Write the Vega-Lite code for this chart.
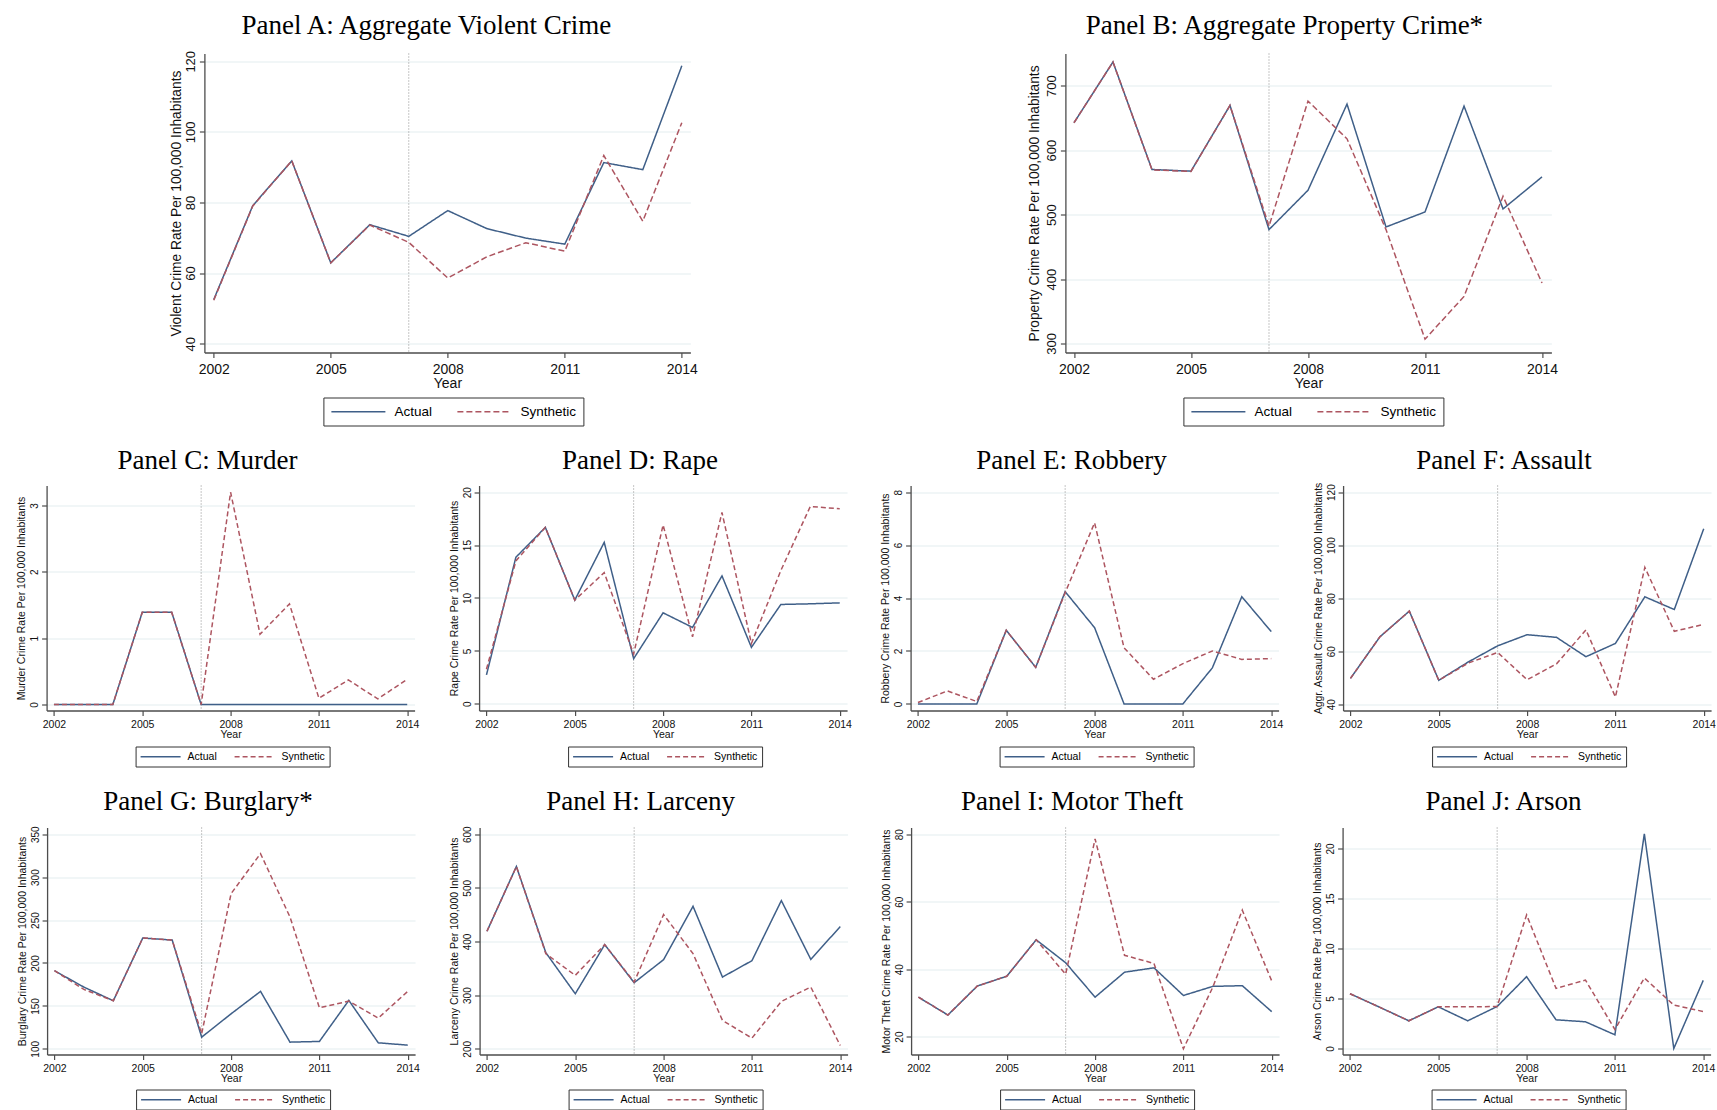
{
  "$schema": "https://vega.github.io/schema/vega-lite/v6.json",
  "background": "white",
  "padding": {"left": 16.5, "top": 11.5, "right": 0, "bottom": 0},
  "config": {
    "view": {"stroke": null},
    "font": "Liberation Sans",
    "axis": {
      "domainColor": "#4d4d4d", "domainWidth": 1.3,
      "tickColor": "#4d4d4d", "tickWidth": 1.2, "tickSize": 5,
      "labelColor": "#111111", "titleColor": "#111111", "titleFontWeight": "normal",
      "labelFont": "Liberation Sans", "titleFont": "Liberation Sans",
      "gridColor": "#e4eef0", "gridWidth": 1.2
    },
    "axisX": {"grid": false, "format": "d", "labelFlush": false},
    "axisY": {"grid": true, "labelAngle": -90, "labelAlign": "center", "labelBaseline": "bottom", "labelPadding": 2},
    "title": {"font": "Liberation Serif", "fontWeight": "normal", "color": "#000000", "anchor": "middle", "frame": "group"},
    "legend": {
      "strokeColor": "#333333", "fillColor": "#ffffff",
      "symbolStrokeWidth": 1.5, "labelColor": "#000000", "labelFont": "Liberation Sans",
      "orient": "none", "direction": "horizontal", "title": null
    },
    "line": {"strokeWidth": 1.5}
  },
  "datasets": {
    "crime": [
      {"panel": "A", "year": 2002, "Actual": 52.5, "Synthetic": 52.3},
      {"panel": "A", "year": 2003, "Actual": 79.1, "Synthetic": 79.0},
      {"panel": "A", "year": 2004, "Actual": 91.8, "Synthetic": 91.8},
      {"panel": "A", "year": 2005, "Actual": 62.9, "Synthetic": 62.9},
      {"panel": "A", "year": 2006, "Actual": 73.7, "Synthetic": 73.6},
      {"panel": "A", "year": 2007, "Actual": 70.4, "Synthetic": 68.7},
      {"panel": "A", "year": 2008, "Actual": 77.7, "Synthetic": 58.6},
      {"panel": "A", "year": 2009, "Actual": 72.6, "Synthetic": 64.6},
      {"panel": "A", "year": 2010, "Actual": 69.9, "Synthetic": 68.6},
      {"panel": "A", "year": 2011, "Actual": 68.2, "Synthetic": 66.2},
      {"panel": "A", "year": 2012, "Actual": 91.3, "Synthetic": 93.3},
      {"panel": "A", "year": 2013, "Actual": 89.3, "Synthetic": 74.7},
      {"panel": "A", "year": 2014, "Actual": 118.7, "Synthetic": 102.6},

      {"panel": "B", "year": 2002, "Actual": 642.5, "Synthetic": 642.5},
      {"panel": "B", "year": 2003, "Actual": 736.8, "Synthetic": 736.8},
      {"panel": "B", "year": 2004, "Actual": 570.0, "Synthetic": 569.5},
      {"panel": "B", "year": 2005, "Actual": 567.4, "Synthetic": 567.0},
      {"panel": "B", "year": 2006, "Actual": 669.4, "Synthetic": 669.4},
      {"panel": "B", "year": 2007, "Actual": 476.7, "Synthetic": 482.0},
      {"panel": "B", "year": 2008, "Actual": 537.8, "Synthetic": 676.2},
      {"panel": "B", "year": 2009, "Actual": 671.5, "Synthetic": 617.6},
      {"panel": "B", "year": 2010, "Actual": 480.8, "Synthetic": 476.7},
      {"panel": "B", "year": 2011, "Actual": 504.1, "Synthetic": 306.7},
      {"panel": "B", "year": 2012, "Actual": 668.4, "Synthetic": 373.0},
      {"panel": "B", "year": 2013, "Actual": 508.8, "Synthetic": 528.5},
      {"panel": "B", "year": 2014, "Actual": 558.5, "Synthetic": 393.8},

      {"panel": "C", "year": 2002, "Actual": 0, "Synthetic": 0},
      {"panel": "C", "year": 2003, "Actual": 0, "Synthetic": 0},
      {"panel": "C", "year": 2004, "Actual": 0, "Synthetic": 0},
      {"panel": "C", "year": 2005, "Actual": 1.39, "Synthetic": 1.39},
      {"panel": "C", "year": 2006, "Actual": 1.39, "Synthetic": 1.39},
      {"panel": "C", "year": 2007, "Actual": 0, "Synthetic": 0},
      {"panel": "C", "year": 2008, "Actual": 0, "Synthetic": 3.2},
      {"panel": "C", "year": 2009, "Actual": 0, "Synthetic": 1.06},
      {"panel": "C", "year": 2010, "Actual": 0, "Synthetic": 1.515},
      {"panel": "C", "year": 2011, "Actual": 0, "Synthetic": 0.095},
      {"panel": "C", "year": 2012, "Actual": 0, "Synthetic": 0.37},
      {"panel": "C", "year": 2013, "Actual": 0, "Synthetic": 0.085},
      {"panel": "C", "year": 2014, "Actual": 0, "Synthetic": 0.38},

      {"panel": "D", "year": 2002, "Actual": 2.73, "Synthetic": 3.27},
      {"panel": "D", "year": 2003, "Actual": 13.85, "Synthetic": 13.5},
      {"panel": "D", "year": 2004, "Actual": 16.67, "Synthetic": 16.67},
      {"panel": "D", "year": 2005, "Actual": 9.8, "Synthetic": 9.8},
      {"panel": "D", "year": 2006, "Actual": 15.26, "Synthetic": 12.4},
      {"panel": "D", "year": 2007, "Actual": 4.27, "Synthetic": 4.7},
      {"panel": "D", "year": 2008, "Actual": 8.6, "Synthetic": 16.9},
      {"panel": "D", "year": 2009, "Actual": 7.22, "Synthetic": 6.34},
      {"panel": "D", "year": 2010, "Actual": 12.09, "Synthetic": 18.08},
      {"panel": "D", "year": 2011, "Actual": 5.34, "Synthetic": 5.7},
      {"panel": "D", "year": 2012, "Actual": 9.39, "Synthetic": 12.6},
      {"panel": "D", "year": 2013, "Actual": 9.45, "Synthetic": 18.65},
      {"panel": "D", "year": 2014, "Actual": 9.54, "Synthetic": 18.43},

      {"panel": "E", "year": 2002, "Actual": 0, "Synthetic": 0.05},
      {"panel": "E", "year": 2003, "Actual": 0, "Synthetic": 0.49},
      {"panel": "E", "year": 2004, "Actual": 0, "Synthetic": 0.09},
      {"panel": "E", "year": 2005, "Actual": 2.78, "Synthetic": 2.78},
      {"panel": "E", "year": 2006, "Actual": 1.38, "Synthetic": 1.38},
      {"panel": "E", "year": 2007, "Actual": 4.24, "Synthetic": 4.2},
      {"panel": "E", "year": 2008, "Actual": 2.88, "Synthetic": 6.84},
      {"panel": "E", "year": 2009, "Actual": 0, "Synthetic": 2.12},
      {"panel": "E", "year": 2010, "Actual": 0, "Synthetic": 0.93},
      {"panel": "E", "year": 2011, "Actual": 0, "Synthetic": 1.52},
      {"panel": "E", "year": 2012, "Actual": 1.36, "Synthetic": 2.0},
      {"panel": "E", "year": 2013, "Actual": 4.05, "Synthetic": 1.68},
      {"panel": "E", "year": 2014, "Actual": 2.73, "Synthetic": 1.71},

      {"panel": "F", "year": 2002, "Actual": 49.7, "Synthetic": 49.7},
      {"panel": "F", "year": 2003, "Actual": 65.4, "Synthetic": 65.4},
      {"panel": "F", "year": 2004, "Actual": 75.1, "Synthetic": 75.1},
      {"panel": "F", "year": 2005, "Actual": 49.0, "Synthetic": 49.0},
      {"panel": "F", "year": 2006, "Actual": 55.9, "Synthetic": 55.5},
      {"panel": "F", "year": 2007, "Actual": 62.0, "Synthetic": 59.5},
      {"panel": "F", "year": 2008, "Actual": 66.2, "Synthetic": 49.2},
      {"panel": "F", "year": 2009, "Actual": 65.2, "Synthetic": 55.2},
      {"panel": "F", "year": 2010, "Actual": 57.9, "Synthetic": 68.0},
      {"panel": "F", "year": 2011, "Actual": 62.9, "Synthetic": 42.7},
      {"panel": "F", "year": 2012, "Actual": 80.5, "Synthetic": 91.6},
      {"panel": "F", "year": 2013, "Actual": 75.7, "Synthetic": 67.5},
      {"panel": "F", "year": 2014, "Actual": 106.2, "Synthetic": 70.1},

      {"panel": "G", "year": 2002, "Actual": 191.0, "Synthetic": 191.0},
      {"panel": "G", "year": 2003, "Actual": 171.9, "Synthetic": 169.2},
      {"panel": "G", "year": 2004, "Actual": 156.0, "Synthetic": 156.0},
      {"panel": "G", "year": 2005, "Actual": 229.1, "Synthetic": 229.1},
      {"panel": "G", "year": 2006, "Actual": 226.7, "Synthetic": 226.7},
      {"panel": "G", "year": 2007, "Actual": 113.6, "Synthetic": 117.5},
      {"panel": "G", "year": 2008, "Actual": 140.8, "Synthetic": 280.8},
      {"panel": "G", "year": 2009, "Actual": 166.9, "Synthetic": 327.4},
      {"panel": "G", "year": 2010, "Actual": 107.8, "Synthetic": 253.6},
      {"panel": "G", "year": 2011, "Actual": 108.6, "Synthetic": 147.8},
      {"panel": "G", "year": 2012, "Actual": 156.4, "Synthetic": 155.6},
      {"panel": "G", "year": 2013, "Actual": 107.0, "Synthetic": 135.8},
      {"panel": "G", "year": 2014, "Actual": 104.3, "Synthetic": 166.9},

      {"panel": "H", "year": 2002, "Actual": 419.0, "Synthetic": 419.0},
      {"panel": "H", "year": 2003, "Actual": 539.7, "Synthetic": 539.7},
      {"panel": "H", "year": 2004, "Actual": 379.2, "Synthetic": 377.3},
      {"panel": "H", "year": 2005, "Actual": 302.6, "Synthetic": 336.9},
      {"panel": "H", "year": 2006, "Actual": 394.1, "Synthetic": 394.1},
      {"panel": "H", "year": 2007, "Actual": 323.2, "Synthetic": 324.4},
      {"panel": "H", "year": 2008, "Actual": 366.1, "Synthetic": 450.1},
      {"panel": "H", "year": 2009, "Actual": 465.6, "Synthetic": 377.3},
      {"panel": "H", "year": 2010, "Actual": 333.7, "Synthetic": 252.9},
      {"panel": "H", "year": 2011, "Actual": 364.2, "Synthetic": 219.9},
      {"panel": "H", "year": 2012, "Actual": 476.2, "Synthetic": 288.3},
      {"panel": "H", "year": 2013, "Actual": 366.7, "Synthetic": 315.1},
      {"panel": "H", "year": 2014, "Actual": 427.7, "Synthetic": 206.2},

      {"panel": "I", "year": 2002, "Actual": 31.7, "Synthetic": 31.7},
      {"panel": "I", "year": 2003, "Actual": 26.4, "Synthetic": 26.4},
      {"panel": "I", "year": 2004, "Actual": 35.0, "Synthetic": 35.0},
      {"panel": "I", "year": 2005, "Actual": 37.9, "Synthetic": 37.9},
      {"panel": "I", "year": 2006, "Actual": 48.7, "Synthetic": 48.7},
      {"panel": "I", "year": 2007, "Actual": 41.9, "Synthetic": 38.5},
      {"panel": "I", "year": 2008, "Actual": 31.7, "Synthetic": 78.6},
      {"panel": "I", "year": 2009, "Actual": 39.1, "Synthetic": 44.1},
      {"panel": "I", "year": 2010, "Actual": 40.4, "Synthetic": 41.7},
      {"panel": "I", "year": 2011, "Actual": 32.2, "Synthetic": 16.4},
      {"panel": "I", "year": 2012, "Actual": 34.9, "Synthetic": 34.7},
      {"panel": "I", "year": 2013, "Actual": 35.1, "Synthetic": 57.5},
      {"panel": "I", "year": 2014, "Actual": 27.4, "Synthetic": 36.5},

      {"panel": "J", "year": 2002, "Actual": 5.48, "Synthetic": 5.48},
      {"panel": "J", "year": 2003, "Actual": 4.14, "Synthetic": 4.14},
      {"panel": "J", "year": 2004, "Actual": 2.77, "Synthetic": 2.77},
      {"panel": "J", "year": 2005, "Actual": 4.17, "Synthetic": 4.17},
      {"panel": "J", "year": 2006, "Actual": 2.77, "Synthetic": 4.17},
      {"panel": "J", "year": 2007, "Actual": 4.2, "Synthetic": 4.2},
      {"panel": "J", "year": 2008, "Actual": 7.18, "Synthetic": 13.36},
      {"panel": "J", "year": 2009, "Actual": 2.87, "Synthetic": 6.01},
      {"panel": "J", "year": 2010, "Actual": 2.67, "Synthetic": 6.84},
      {"panel": "J", "year": 2011, "Actual": 1.37, "Synthetic": 1.9},
      {"panel": "J", "year": 2012, "Actual": 21.47, "Synthetic": 7.05},
      {"panel": "J", "year": 2013, "Actual": 0, "Synthetic": 4.34},
      {"panel": "J", "year": 2014, "Actual": 6.81, "Synthetic": 3.7}
    ],
    "treatment": [{"year": 2007}]
  },
  "spacing": 20,
  "center": true,
  "resolve": {"scale": {"color": "independent", "strokeDash": "independent"}, "legend": {"color": "independent", "strokeDash": "independent"}},
  "vconcat": [
    {
      "spacing": 330,
      "resolve": {"scale": {"color": "independent", "strokeDash": "independent"}, "legend": {"color": "independent", "strokeDash": "independent"}},
      "hconcat": [
        {
          "width": 486, "height": 299,
          "title": {"text": "Panel A: Aggregate Violent Crime", "fontSize": 27, "dx": -21, "offset": 10},
          "layer": [
            {"data": {"name": "treatment"}, "mark": {"type": "rule", "color": "#8c8c8c", "strokeDash": [1, 2], "strokeWidth": 1},
             "encoding": {"x": {"field": "year", "type": "quantitative", "title": "Year", "scale": {"domain": [2001.76, 2014.22], "nice": false, "zero": false}}}},
            {"data": {"name": "crime"},
             "transform": [{"filter": "datum.panel === 'A'"}, {"fold": ["Actual", "Synthetic"], "as": ["series", "rate"]}],
             "mark": {"type": "line"},
             "encoding": {
               "x": {"field": "year", "type": "quantitative", "scale": {"domain": [2001.76, 2014.22], "nice": false, "zero": false},
                     "axis": {"values": [2002, 2005, 2008, 2011, 2014], "title": "Year", "labelFontSize": 14, "titleFontSize": 14, "labelPadding": 5, "titlePadding": 0}},
               "y": {"field": "rate", "type": "quantitative", "scale": {"domain": [37.5, 122.2], "nice": false, "zero": false},
                     "axis": {"values": [40, 60, 80, 100, 120], "title": "Violent Crime Rate Per 100,000 Inhabitants", "labelFontSize": 13, "titleFontSize": 13.8, "titlePadding": 1}},
               "color": {"field": "series", "type": "nominal", "scale": {"domain": ["Actual", "Synthetic"], "range": ["#3f5f88", "#ad5560"]},
                         "legend": {"legendX": 119, "legendY": 344, "symbolType": "M-1,0H8", "symbolSize": 144, "labelFontSize": 13.5, "labelOffset": 50, "columnPadding": 22, "padding": 7}},
               "strokeDash": {"field": "series", "type": "nominal", "scale": {"domain": ["Actual", "Synthetic"], "range": [[1, 0], [6, 3]]},
                         "legend": {"legendX": 119, "legendY": 344, "symbolType": "M-1,0H8", "symbolSize": 144, "labelFontSize": 13.5, "labelOffset": 50, "columnPadding": 22, "padding": 7}}
             }}
          ]
        },
        {
          "width": 486, "height": 299,
          "title": {"text": "Panel B: Aggregate Property Crime*", "fontSize": 27, "dx": -24, "offset": 13},
          "layer": [
            {"data": {"name": "treatment"}, "mark": {"type": "rule", "color": "#8c8c8c", "strokeDash": [1, 2], "strokeWidth": 1},
             "encoding": {"x": {"field": "year", "type": "quantitative", "title": "Year", "scale": {"domain": [2001.78, 2014.24], "nice": false, "zero": false}}}},
            {"data": {"name": "crime"},
             "transform": [{"filter": "datum.panel === 'B'"}, {"fold": ["Actual", "Synthetic"], "as": ["series", "rate"]}],
             "mark": {"type": "line"},
             "encoding": {
               "x": {"field": "year", "type": "quantitative", "scale": {"domain": [2001.78, 2014.24], "nice": false, "zero": false},
                     "axis": {"values": [2002, 2005, 2008, 2011, 2014], "title": "Year", "labelFontSize": 14, "titleFontSize": 14, "labelPadding": 5, "titlePadding": 0}},
               "y": {"field": "rate", "type": "quantitative", "scale": {"domain": [286, 750], "nice": false, "zero": false},
                     "axis": {"values": [300, 400, 500, 600, 700], "title": "Property Crime Rate Per 100,000 Inhabitants", "labelFontSize": 13, "titleFontSize": 13.8, "titlePadding": 4}},
               "color": {"field": "series", "type": "nominal", "scale": {"domain": ["Actual", "Synthetic"], "range": ["#3f5f88", "#ad5560"]},
                         "legend": {"legendX": 118, "legendY": 344, "symbolType": "M-1,0H8", "symbolSize": 144, "labelFontSize": 13.5, "labelOffset": 50, "columnPadding": 22, "padding": 7}},
               "strokeDash": {"field": "series", "type": "nominal", "scale": {"domain": ["Actual", "Synthetic"], "range": [[1, 0], [6, 3]]},
                         "legend": {"legendX": 118, "legendY": 344, "symbolType": "M-1,0H8", "symbolSize": 144, "labelFontSize": 13.5, "labelOffset": 50, "columnPadding": 22, "padding": 7}}
             }}
          ]
        }
      ]
    },
    {
      "spacing": 28.5,
      "resolve": {"scale": {"color": "independent", "strokeDash": "independent"}, "legend": {"color": "independent", "strokeDash": "independent"}},
      "hconcat": [
        {
          "width": 368, "height": 225,
          "title": {"text": "Panel C: Murder", "fontSize": 27, "dx": -23, "offset": 10},
          "layer": [
            {"data": {"name": "treatment"}, "mark": {"type": "rule", "color": "#8c8c8c", "strokeDash": [1, 2], "strokeWidth": 1},
             "encoding": {"x": {"field": "year", "type": "quantitative", "title": "Year", "scale": {"domain": [2001.75, 2014.25], "nice": false, "zero": false}}}},
            {"data": {"name": "crime"},
             "transform": [{"filter": "datum.panel === 'C'"}, {"fold": ["Actual", "Synthetic"], "as": ["series", "rate"]}],
             "mark": {"type": "line"},
             "encoding": {
               "x": {"field": "year", "type": "quantitative", "scale": {"domain": [2001.75, 2014.25], "nice": false, "zero": false},
                     "axis": {"values": [2002, 2005, 2008, 2011, 2014], "title": "Year", "labelFontSize": 10.5, "titleFontSize": 10.5, "labelPadding": 4, "titlePadding": -1}},
               "y": {"field": "rate", "type": "quantitative", "scale": {"domain": [-0.09, 3.3], "nice": false, "zero": false},
                     "axis": {"values": [0, 1, 2, 3], "title": "Murder Crime Rate Per 100,000 Inhabitants", "labelFontSize": 10, "titleFontSize": 10.5, "titlePadding": 3}},
               "color": {"field": "series", "type": "nominal", "scale": {"domain": ["Actual", "Synthetic"], "range": ["#3f5f88", "#ad5560"]},
                         "legend": {"legendX": 89, "legendY": 261, "symbolType": "M-1,0H7", "symbolSize": 100, "labelFontSize": 10.5, "labelOffset": 36, "columnPadding": 14, "padding": 4}},
               "strokeDash": {"field": "series", "type": "nominal", "scale": {"domain": ["Actual", "Synthetic"], "range": [[1, 0], [5, 3]]},
                         "legend": {"legendX": 89, "legendY": 261, "symbolType": "M-1,0H7", "symbolSize": 100, "labelFontSize": 10.5, "labelOffset": 36, "columnPadding": 14, "padding": 4}}
             }}
          ]
        },
        {
          "width": 368, "height": 225,
          "title": {"text": "Panel D: Rape", "fontSize": 27, "dx": -23, "offset": 10},
          "layer": [
            {"data": {"name": "treatment"}, "mark": {"type": "rule", "color": "#8c8c8c", "strokeDash": [1, 2], "strokeWidth": 1},
             "encoding": {"x": {"field": "year", "type": "quantitative", "title": "Year", "scale": {"domain": [2001.75, 2014.25], "nice": false, "zero": false}}}},
            {"data": {"name": "crime"},
             "transform": [{"filter": "datum.panel === 'D'"}, {"fold": ["Actual", "Synthetic"], "as": ["series", "rate"]}],
             "mark": {"type": "line"},
             "encoding": {
               "x": {"field": "year", "type": "quantitative", "scale": {"domain": [2001.75, 2014.25], "nice": false, "zero": false},
                     "axis": {"values": [2002, 2005, 2008, 2011, 2014], "title": "Year", "labelFontSize": 10.5, "titleFontSize": 10.5, "labelPadding": 4, "titlePadding": -1}},
               "y": {"field": "rate", "type": "quantitative", "scale": {"domain": [-0.63, 20.63], "nice": false, "zero": false},
                     "axis": {"values": [0, 5, 10, 15, 20], "title": "Rape Crime Rate Per 100,000 Inhabitants", "labelFontSize": 10, "titleFontSize": 10.5, "titlePadding": 3}},
               "color": {"field": "series", "type": "nominal", "scale": {"domain": ["Actual", "Synthetic"], "range": ["#3f5f88", "#ad5560"]},
                         "legend": {"legendX": 89, "legendY": 261, "symbolType": "M-1,0H7", "symbolSize": 100, "labelFontSize": 10.5, "labelOffset": 36, "columnPadding": 14, "padding": 4}},
               "strokeDash": {"field": "series", "type": "nominal", "scale": {"domain": ["Actual", "Synthetic"], "range": [[1, 0], [5, 3]]},
                         "legend": {"legendX": 89, "legendY": 261, "symbolType": "M-1,0H7", "symbolSize": 100, "labelFontSize": 10.5, "labelOffset": 36, "columnPadding": 14, "padding": 4}}
             }}
          ]
        },
        {
          "width": 368, "height": 225,
          "title": {"text": "Panel E: Robbery", "fontSize": 27, "dx": -23, "offset": 10},
          "layer": [
            {"data": {"name": "treatment"}, "mark": {"type": "rule", "color": "#8c8c8c", "strokeDash": [1, 2], "strokeWidth": 1},
             "encoding": {"x": {"field": "year", "type": "quantitative", "title": "Year", "scale": {"domain": [2001.75, 2014.25], "nice": false, "zero": false}}}},
            {"data": {"name": "crime"},
             "transform": [{"filter": "datum.panel === 'E'"}, {"fold": ["Actual", "Synthetic"], "as": ["series", "rate"]}],
             "mark": {"type": "line"},
             "encoding": {
               "x": {"field": "year", "type": "quantitative", "scale": {"domain": [2001.75, 2014.25], "nice": false, "zero": false},
                     "axis": {"values": [2002, 2005, 2008, 2011, 2014], "title": "Year", "labelFontSize": 10.5, "titleFontSize": 10.5, "labelPadding": 4, "titlePadding": -1}},
               "y": {"field": "rate", "type": "quantitative", "scale": {"domain": [-0.25, 8.25], "nice": false, "zero": false},
                     "axis": {"values": [0, 2, 4, 6, 8], "title": "Robbery Crime Rate Per 100,000 Inhabitants", "labelFontSize": 10, "titleFontSize": 10.5, "titlePadding": 3}},
               "color": {"field": "series", "type": "nominal", "scale": {"domain": ["Actual", "Synthetic"], "range": ["#3f5f88", "#ad5560"]},
                         "legend": {"legendX": 89, "legendY": 261, "symbolType": "M-1,0H7", "symbolSize": 100, "labelFontSize": 10.5, "labelOffset": 36, "columnPadding": 14, "padding": 4}},
               "strokeDash": {"field": "series", "type": "nominal", "scale": {"domain": ["Actual", "Synthetic"], "range": [[1, 0], [5, 3]]},
                         "legend": {"legendX": 89, "legendY": 261, "symbolType": "M-1,0H7", "symbolSize": 100, "labelFontSize": 10.5, "labelOffset": 36, "columnPadding": 14, "padding": 4}}
             }}
          ]
        },
        {
          "width": 368, "height": 225,
          "title": {"text": "Panel F: Assault", "fontSize": 27, "dx": -23, "offset": 7},
          "layer": [
            {"data": {"name": "treatment"}, "mark": {"type": "rule", "color": "#8c8c8c", "strokeDash": [1, 2], "strokeWidth": 1},
             "encoding": {"x": {"field": "year", "type": "quantitative", "title": "Year", "scale": {"domain": [2001.75, 2014.25], "nice": false, "zero": false}}}},
            {"data": {"name": "crime"},
             "transform": [{"filter": "datum.panel === 'F'"}, {"fold": ["Actual", "Synthetic"], "as": ["series", "rate"]}],
             "mark": {"type": "line"},
             "encoding": {
               "x": {"field": "year", "type": "quantitative", "scale": {"domain": [2001.75, 2014.25], "nice": false, "zero": false},
                     "axis": {"values": [2002, 2005, 2008, 2011, 2014], "title": "Year", "labelFontSize": 10.5, "titleFontSize": 10.5, "labelPadding": 4, "titlePadding": -1}},
               "y": {"field": "rate", "type": "quantitative", "scale": {"domain": [37.6, 122.5], "nice": false, "zero": false},
                     "axis": {"values": [40, 60, 80, 100, 120], "title": "Aggr. Assault Crime Rate Per 100,000 Inhabitants", "labelFontSize": 10, "titleFontSize": 10.5, "titlePadding": 3}},
               "color": {"field": "series", "type": "nominal", "scale": {"domain": ["Actual", "Synthetic"], "range": ["#3f5f88", "#ad5560"]},
                         "legend": {"legendX": 89, "legendY": 261, "symbolType": "M-1,0H7", "symbolSize": 100, "labelFontSize": 10.5, "labelOffset": 36, "columnPadding": 14, "padding": 4}},
               "strokeDash": {"field": "series", "type": "nominal", "scale": {"domain": ["Actual", "Synthetic"], "range": [[1, 0], [5, 3]]},
                         "legend": {"legendX": 89, "legendY": 261, "symbolType": "M-1,0H7", "symbolSize": 100, "labelFontSize": 10.5, "labelOffset": 36, "columnPadding": 14, "padding": 4}}
             }}
          ]
        }
      ]
    },
    {
      "spacing": 28.5,
      "resolve": {"scale": {"color": "independent", "strokeDash": "independent"}, "legend": {"color": "independent", "strokeDash": "independent"}},
      "hconcat": [
        {
          "width": 368, "height": 227,
          "title": {"text": "Panel G: Burglary*", "fontSize": 27, "dx": -23, "offset": 9.5},
          "layer": [
            {"data": {"name": "treatment"}, "mark": {"type": "rule", "color": "#8c8c8c", "strokeDash": [1, 2], "strokeWidth": 1},
             "encoding": {"x": {"field": "year", "type": "quantitative", "title": "Year", "scale": {"domain": [2001.75, 2014.25], "nice": false, "zero": false}}}},
            {"data": {"name": "crime"},
             "transform": [{"filter": "datum.panel === 'G'"}, {"fold": ["Actual", "Synthetic"], "as": ["series", "rate"]}],
             "mark": {"type": "line"},
             "encoding": {
               "x": {"field": "year", "type": "quantitative", "scale": {"domain": [2001.75, 2014.25], "nice": false, "zero": false},
                     "axis": {"values": [2002, 2005, 2008, 2011, 2014], "title": "Year", "labelFontSize": 10.5, "titleFontSize": 10.5, "labelPadding": 4, "titlePadding": -1}},
               "y": {"field": "rate", "type": "quantitative", "scale": {"domain": [93.4, 357.8], "nice": false, "zero": false},
                     "axis": {"values": [100, 150, 200, 250, 300, 350], "title": "Burglary Crime Rate Per 100,000 Inhabitants", "labelFontSize": 10, "titleFontSize": 10.5, "titlePadding": 3}},
               "color": {"field": "series", "type": "nominal", "scale": {"domain": ["Actual", "Synthetic"], "range": ["#3f5f88", "#ad5560"]},
                         "legend": {"legendX": 89, "legendY": 262, "symbolType": "M-1,0H7", "symbolSize": 100, "labelFontSize": 10.5, "labelOffset": 36, "columnPadding": 14, "padding": 4}},
               "strokeDash": {"field": "series", "type": "nominal", "scale": {"domain": ["Actual", "Synthetic"], "range": [[1, 0], [5, 3]]},
                         "legend": {"legendX": 89, "legendY": 262, "symbolType": "M-1,0H7", "symbolSize": 100, "labelFontSize": 10.5, "labelOffset": 36, "columnPadding": 14, "padding": 4}}
             }}
          ]
        },
        {
          "width": 368, "height": 227,
          "title": {"text": "Panel H: Larceny", "fontSize": 27, "dx": -23, "offset": 9.5},
          "layer": [
            {"data": {"name": "treatment"}, "mark": {"type": "rule", "color": "#8c8c8c", "strokeDash": [1, 2], "strokeWidth": 1},
             "encoding": {"x": {"field": "year", "type": "quantitative", "title": "Year", "scale": {"domain": [2001.75, 2014.25], "nice": false, "zero": false}}}},
            {"data": {"name": "crime"},
             "transform": [{"filter": "datum.panel === 'H'"}, {"fold": ["Actual", "Synthetic"], "as": ["series", "rate"]}],
             "mark": {"type": "line"},
             "encoding": {
               "x": {"field": "year", "type": "quantitative", "scale": {"domain": [2001.75, 2014.25], "nice": false, "zero": false},
                     "axis": {"values": [2002, 2005, 2008, 2011, 2014], "title": "Year", "labelFontSize": 10.5, "titleFontSize": 10.5, "labelPadding": 4, "titlePadding": -1}},
               "y": {"field": "rate", "type": "quantitative", "scale": {"domain": [189.4, 612.4], "nice": false, "zero": false},
                     "axis": {"values": [200, 300, 400, 500, 600], "title": "Larceny Crime Rate Per 100,000 Inhabitants", "labelFontSize": 10, "titleFontSize": 10.5, "titlePadding": 3}},
               "color": {"field": "series", "type": "nominal", "scale": {"domain": ["Actual", "Synthetic"], "range": ["#3f5f88", "#ad5560"]},
                         "legend": {"legendX": 89, "legendY": 262, "symbolType": "M-1,0H7", "symbolSize": 100, "labelFontSize": 10.5, "labelOffset": 36, "columnPadding": 14, "padding": 4}},
               "strokeDash": {"field": "series", "type": "nominal", "scale": {"domain": ["Actual", "Synthetic"], "range": [[1, 0], [5, 3]]},
                         "legend": {"legendX": 89, "legendY": 262, "symbolType": "M-1,0H7", "symbolSize": 100, "labelFontSize": 10.5, "labelOffset": 36, "columnPadding": 14, "padding": 4}}
             }}
          ]
        },
        {
          "width": 368, "height": 227,
          "title": {"text": "Panel I: Motor Theft", "fontSize": 27, "dx": -23, "offset": 11.5},
          "layer": [
            {"data": {"name": "treatment"}, "mark": {"type": "rule", "color": "#8c8c8c", "strokeDash": [1, 2], "strokeWidth": 1},
             "encoding": {"x": {"field": "year", "type": "quantitative", "title": "Year", "scale": {"domain": [2001.75, 2014.25], "nice": false, "zero": false}}}},
            {"data": {"name": "crime"},
             "transform": [{"filter": "datum.panel === 'I'"}, {"fold": ["Actual", "Synthetic"], "as": ["series", "rate"]}],
             "mark": {"type": "line"},
             "encoding": {
               "x": {"field": "year", "type": "quantitative", "scale": {"domain": [2001.75, 2014.25], "nice": false, "zero": false},
                     "axis": {"values": [2002, 2005, 2008, 2011, 2014], "title": "Year", "labelFontSize": 10.5, "titleFontSize": 10.5, "labelPadding": 4, "titlePadding": -1}},
               "y": {"field": "rate", "type": "quantitative", "scale": {"domain": [14.7, 82.0], "nice": false, "zero": false},
                     "axis": {"values": [20, 40, 60, 80], "title": "Motor Theft Crime Rate Per 100,000 Inhabitants", "labelFontSize": 10, "titleFontSize": 10.5, "titlePadding": 3}},
               "color": {"field": "series", "type": "nominal", "scale": {"domain": ["Actual", "Synthetic"], "range": ["#3f5f88", "#ad5560"]},
                         "legend": {"legendX": 89, "legendY": 262, "symbolType": "M-1,0H7", "symbolSize": 100, "labelFontSize": 10.5, "labelOffset": 36, "columnPadding": 14, "padding": 4}},
               "strokeDash": {"field": "series", "type": "nominal", "scale": {"domain": ["Actual", "Synthetic"], "range": [[1, 0], [5, 3]]},
                         "legend": {"legendX": 89, "legendY": 262, "symbolType": "M-1,0H7", "symbolSize": 100, "labelFontSize": 10.5, "labelOffset": 36, "columnPadding": 14, "padding": 4}}
             }}
          ]
        },
        {
          "width": 368, "height": 227,
          "title": {"text": "Panel J: Arson", "fontSize": 27, "dx": -23, "offset": 11.5},
          "layer": [
            {"data": {"name": "treatment"}, "mark": {"type": "rule", "color": "#8c8c8c", "strokeDash": [1, 2], "strokeWidth": 1},
             "encoding": {"x": {"field": "year", "type": "quantitative", "title": "Year", "scale": {"domain": [2001.75, 2014.25], "nice": false, "zero": false}}}},
            {"data": {"name": "crime"},
             "transform": [{"filter": "datum.panel === 'J'"}, {"fold": ["Actual", "Synthetic"], "as": ["series", "rate"]}],
             "mark": {"type": "line"},
             "encoding": {
               "x": {"field": "year", "type": "quantitative", "scale": {"domain": [2001.75, 2014.25], "nice": false, "zero": false},
                     "axis": {"values": [2002, 2005, 2008, 2011, 2014], "title": "Year", "labelFontSize": 10.5, "titleFontSize": 10.5, "labelPadding": 4, "titlePadding": -1}},
               "y": {"field": "rate", "type": "quantitative", "scale": {"domain": [-0.6, 22.1], "nice": false, "zero": false},
                     "axis": {"values": [0, 5, 10, 15, 20], "title": "Arson Crime Rate Per 100,000 Inhabitants", "labelFontSize": 10, "titleFontSize": 10.5, "titlePadding": 3}},
               "color": {"field": "series", "type": "nominal", "scale": {"domain": ["Actual", "Synthetic"], "range": ["#3f5f88", "#ad5560"]},
                         "legend": {"legendX": 89, "legendY": 262, "symbolType": "M-1,0H7", "symbolSize": 100, "labelFontSize": 10.5, "labelOffset": 36, "columnPadding": 14, "padding": 4}},
               "strokeDash": {"field": "series", "type": "nominal", "scale": {"domain": ["Actual", "Synthetic"], "range": [[1, 0], [5, 3]]},
                         "legend": {"legendX": 89, "legendY": 262, "symbolType": "M-1,0H7", "symbolSize": 100, "labelFontSize": 10.5, "labelOffset": 36, "columnPadding": 14, "padding": 4}}
             }}
          ]
        }
      ]
    }
  ]
}
